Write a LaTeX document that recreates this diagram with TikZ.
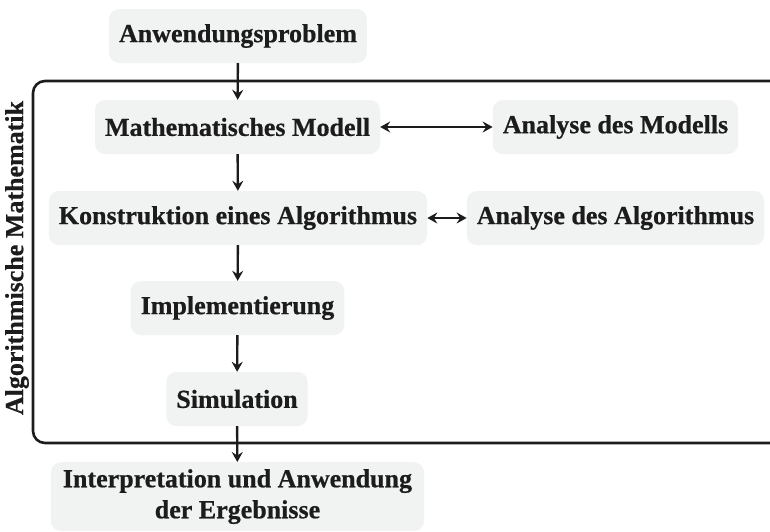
\documentclass[tikz,border=0pt]{standalone}
\usepackage{fontspec}
\setmainfont{Liberation Serif}[BoldFeatures={FakeBold=0.6}]
\usetikzlibrary{arrows.meta}
\definecolor{boxgray}{HTML}{F1F2F2}
\definecolor{ink}{HTML}{1C1C1C}
\tikzset{
  tip/.tip={Stealth[length=10pt,width=11pt,inset=3.5pt]},
  stepbox/.style={fill=boxgray, rounded corners=10pt, inner xsep=10pt, inner ysep=0pt,
    minimum height=54pt, font=\fontsize{26}{31}\selectfont\bfseries, text=ink},
  flow/.style={draw=ink, line width=2.4pt, -tip},
  biflow/.style={draw=ink, line width=2.4pt, tip-tip},
}
\begin{document}
\begin{tikzpicture}[x=1pt,y=1pt]
\useasboundingbox (0,0) rectangle (770,-531);
\begin{scope}
\clip (0,0) rectangle (770,-531);
\draw[draw=ink, line width=2.6pt, rounded corners=12pt] (33,-81) rectangle (820,-443);
\node[stepbox] (ap) at (238,-36) {Anwendungsproblem};
\node[stepbox] (mm) at (237.5,-127) {Mathematisches Modell};
\node[stepbox] (am) at (615.5,-127) {Analyse des Modells};
\node[stepbox] (ka) at (238,-218) {Konstruktion eines Algorithmus};
\node[stepbox] (aa) at (615.5,-218) {Analyse des Algorithmus};
\node[stepbox] (im) at (237.5,-308) {Implementierung};
\node[stepbox] (si) at (237,-399) {Simulation};
\node[stepbox, align=center, anchor=north, inner ysep=7pt, inner xsep=12pt] (ie) at (237.5,-462) {Interpretation und Anwendung\\der Ergebnisse};
\node[font=\fontsize{26}{31}\selectfont\bfseries, text=ink, rotate=90] (lab) at (17,-258) {Algorithmische Mathematik};
\draw[flow] (ap) -- (mm);
\draw[flow] (mm) -- (ka);
\draw[flow] (ka) -- (im);
\draw[flow] (im) -- (si);
\draw[flow] (si) -- (ie);
\draw[biflow] (mm) -- (am);
\draw[biflow] (ka) -- (aa);
\end{scope}
\end{tikzpicture}
\end{document}
